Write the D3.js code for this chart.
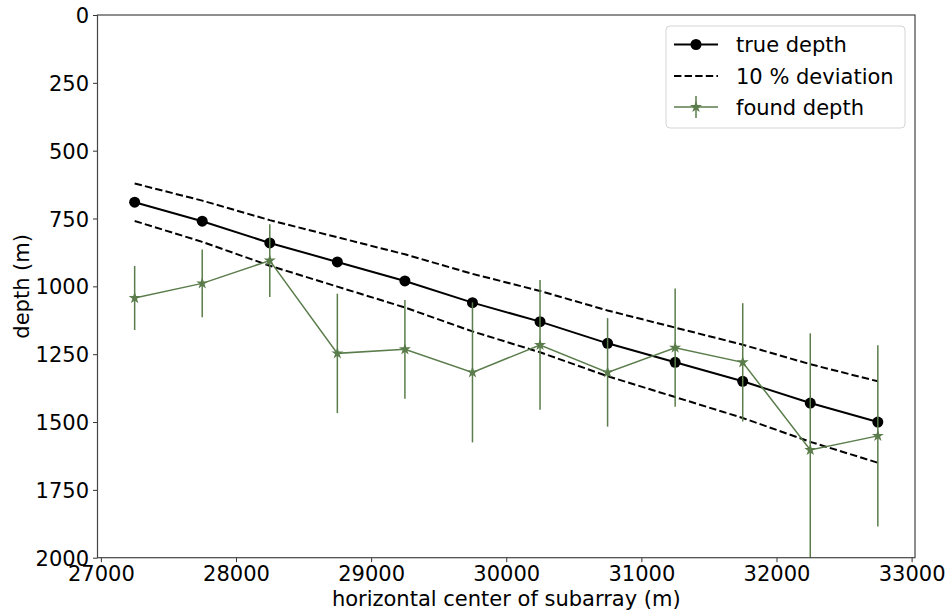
<!DOCTYPE html>
<html>
<head>
<meta charset="utf-8">
<script src="https://cdn.jsdelivr.net/npm/d3@7"></script>
<style>
  body { margin: 0; background: #fff; }
  text { font-family: "DejaVu Sans", sans-serif; }
</style>
</head>
<body>
<script>
// data
var xCenters = [27250, 27750, 28250, 28750, 29250, 29750, 30250, 30750, 31250, 31750, 32250, 32750];
var trueDepth = [690, 760, 840, 910, 980, 1060, 1130, 1210, 1280, 1350, 1430, 1500];
var devUpper = [621, 684, 756, 819, 882, 954, 1017, 1089, 1152, 1215, 1287, 1350];
var devLower = [759, 836, 924, 1001, 1078, 1166, 1243, 1331, 1408, 1485, 1573, 1650];
var foundDepth = [1043, 989, 905, 1247, 1232, 1317, 1216, 1317, 1226, 1280, 1603, 1551];
var foundErr = [118, 125, 134, 220, 182, 258, 239, 200, 218, 218, 430, 334];
var xTicks = [27000, 28000, 29000, 30000, 31000, 32000, 33000];
var yTicks = [0, 250, 500, 750, 1000, 1250, 1500, 1750, 2000];
var legendLabels = ["true depth", "10 % deviation", "found depth"];

var W = 949, H = 613;
var pLeft = 97.5, pRight = 915, pTop = 15, pBottom = 557.7;
var green = "#5a7d4b";

var svg = d3.select("body").append("svg")
  .attr("width", W).attr("height", H);

var x = d3.scaleLinear().domain([26975, 33025]).range([pLeft, pRight]);
var y = d3.scaleLinear().domain([0, 2000]).range([pTop, pBottom]);

svg.append("defs").append("clipPath").attr("id", "clip")
  .append("rect").attr("x", pLeft).attr("y", pTop)
  .attr("width", pRight - pLeft).attr("height", pBottom - pTop);

var plot = svg.append("g").attr("clip-path", "url(#clip)");

// dashed deviation lines
var line = d3.line().x(function(d){ return x(d[0]); }).y(function(d){ return y(d[1]); });
[devUpper, devLower].forEach(function(arr){
  plot.append("path")
    .datum(xCenters.map(function(v, i){ return [v, arr[i]]; }))
    .attr("d", line)
    .attr("fill", "none")
    .attr("stroke", "black")
    .attr("stroke-width", 2)
    .attr("stroke-dasharray", "7.4,3.2");
});

// true depth line
var trueData = xCenters.map(function(v, i){ return [v, trueDepth[i]]; });
plot.append("path")
  .datum(trueData)
  .attr("d", line)
  .attr("fill", "none")
  .attr("stroke", "black")
  .attr("stroke-width", 2);
plot.selectAll(".dot").data(trueData).enter()
  .append("circle")
  .attr("cx", function(d){ return x(d[0]); })
  .attr("cy", function(d){ return y(d[1]); })
  .attr("r", 5.5)
  .attr("fill", "black");

// found depth with error bars
var foundData = xCenters.map(function(v, i){ return [v, foundDepth[i], foundErr[i]]; });
plot.selectAll(".err").data(foundData).enter()
  .append("line")
  .attr("x1", function(d){ return x(d[0]); })
  .attr("x2", function(d){ return x(d[0]); })
  .attr("y1", function(d){ return y(d[1] - d[2]); })
  .attr("y2", function(d){ return y(d[1] + d[2]); })
  .attr("stroke", green)
  .attr("stroke-width", 1.5);
plot.append("path")
  .datum(foundData)
  .attr("d", line)
  .attr("fill", "none")
  .attr("stroke", green)
  .attr("stroke-width", 1.5);
var star = d3.symbol().type(d3.symbolStar).size(45);
plot.selectAll(".star").data(foundData).enter()
  .append("path")
  .attr("d", star)
  .attr("transform", function(d){ return "translate(" + x(d[0]) + "," + y(d[1]) + ")"; })
  .attr("fill", green);

// axes
var xAxis = svg.append("g").attr("transform", "translate(0," + pBottom + ")")
  .call(d3.axisBottom(x).tickValues(xTicks).tickFormat(d3.format("d")).tickSize(4.5).tickPadding(4));
var yAxis = svg.append("g").attr("transform", "translate(" + pLeft + ",0)")
  .call(d3.axisLeft(y).tickValues(yTicks).tickFormat(d3.format("d")).tickSize(4.5).tickPadding(4));
[xAxis, yAxis].forEach(function(a){
  a.select(".domain").remove();
  a.selectAll("text").attr("font-family", "DejaVu Sans").attr("font-size", 21).attr("fill", "black");
  a.selectAll("line").attr("stroke", "#333");
});
yAxis.selectAll("text").attr("dy", "0.36em");

// frame
svg.append("rect")
  .attr("x", pLeft).attr("y", pTop)
  .attr("width", pRight - pLeft).attr("height", pBottom - pTop)
  .attr("fill", "none").attr("stroke", "#444").attr("stroke-width", 1.2);

// axis labels
svg.append("text")
  .attr("x", (pLeft + pRight) / 2).attr("y", 606)
  .attr("text-anchor", "middle").attr("font-size", 21)
  .text("horizontal center of subarray (m)");
svg.append("text")
  .attr("transform", "translate(29," + ((pTop + pBottom) / 2) + ") rotate(-90)")
  .attr("text-anchor", "middle").attr("font-size", 21)
  .text("depth (m)");

// legend
var lg = svg.append("g");
lg.append("rect")
  .attr("x", 666).attr("y", 26).attr("width", 239).attr("height", 102)
  .attr("rx", 4).attr("fill", "white").attr("fill-opacity", 0.8)
  .attr("stroke", "#d5d5d5").attr("stroke-width", 1);
var rowY = [44.5, 76, 107];
legendLabels.forEach(function(lbl, i){
  var g = lg.append("g").attr("transform", "translate(0," + rowY[i] + ")");
  var ln = g.append("line").attr("x1", 674).attr("x2", 718).attr("y1", 0).attr("y2", 0);
  if (i === 0) {
    ln.attr("stroke", "black").attr("stroke-width", 2);
    g.append("circle").attr("cx", 696).attr("cy", 0).attr("r", 5.5).attr("fill", "black");
  } else if (i === 1) {
    ln.attr("stroke", "black").attr("stroke-width", 2).attr("stroke-dasharray", "7.4,3.2");
  } else {
    ln.attr("stroke", green).attr("stroke-width", 1.5);
    g.append("line").attr("x1", 696).attr("x2", 696).attr("y1", -11).attr("y2", 11)
      .attr("stroke", green).attr("stroke-width", 1.5);
    g.append("path").attr("d", star).attr("transform", "translate(696,0)").attr("fill", green);
  }
  g.append("text").attr("x", 736).attr("y", 0).attr("dy", "0.36em")
    .attr("font-size", 21).text(lbl);
});
</script>
</body>
</html>
